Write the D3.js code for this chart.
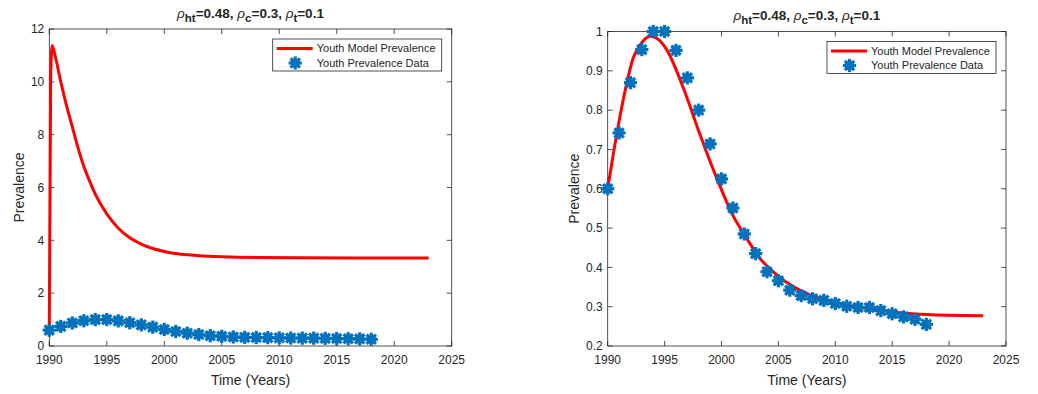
<!DOCTYPE html>
<html><head><meta charset="utf-8">
<script src="https://cdn.jsdelivr.net/npm/d3@7"></script>
<style>body{margin:0;background:#fff} text{font-family:"Liberation Sans",Arial,sans-serif;fill:#262626}</style>
</head><body><svg id="c" width="1038" height="394"></svg>
<script>
// ---------- data ----------
const years = [1990,1991,1992,1993,1994,1995,1996,1997,1998,1999,2000,2001,2002,2003,2004,2005,2006,2007,2008,2009,2010,2011,2012,2013,2014,2015,2016,2017,2018];
const prevalenceData = [0.600,0.742,0.870,0.954,1.000,1.000,0.952,0.882,0.800,0.714,0.625,0.551,0.485,0.435,0.389,0.366,0.342,0.328,0.320,0.316,0.308,0.301,0.298,0.298,0.290,0.282,0.274,0.268,0.255];

const leftModelT = [1990,1990.12,1990.25,1990.5,1991,1991.5,1992,1992.5,1993,1993.5,1994,1995,1996,1997,1998,1999,2000,2001,2002,2003,2005,2008,2012,2023];
const leftModelV = [0.6,10.2,11.38,11.0,10.0,9.1,8.3,7.5,6.8,6.25,5.75,5.0,4.46,4.10,3.86,3.69,3.58,3.50,3.45,3.42,3.38,3.35,3.34,3.33];

const rightModelT = [1990,1990.79,1991.52,1992.25,1992.98,1993.72,1994.4,1995.18,1996.64,1998.11,1999.58,2000.9,2002.21,2003.38,2004.85,2006.31,2007.78,2009,2010,2012,2014,2016,2018,2020,2023];
const rightModelV = [0.6,0.738,0.848,0.933,0.971,0.988,0.981,0.954,0.857,0.738,0.627,0.538,0.474,0.423,0.381,0.351,0.330,0.318,0.311,0.299,0.290,0.284,0.280,0.278,0.277];

const xTicks = [1990,1995,2000,2005,2010,2015,2020,2025];
const leftYTicks = [0,2,4,6,8,10,12];
const rightYTicks = [0.2,0.3,0.4,0.5,0.6,0.7,0.8,0.9,1];

const legendLabels = ["Youth Model Prevalence","Youth Prevalence Data"];
const axisLabelX = "Time (Years)", axisLabelY = "Prevalence";

// ---------- drawing ----------
const svg = d3.select("#c");
const RED = "#FF0000", BLUE = "#0072BD", AX = "#262626";

function marker(g, x, y){
  const m = g.append("g").attr("transform", `translate(${x},${y})`);
  m.append("circle").attr("r", 4.6).attr("fill", BLUE);
  [0,45,90,135].forEach(a=>{
    m.append("line").attr("x1",-6.6).attr("x2",6.6).attr("y1",0).attr("y2",0)
      .attr("transform",`rotate(${a})`).attr("stroke",BLUE).attr("stroke-width",3.2);
  });
}

function title(g, cx, by){
  const t = g.append("text").attr("x",cx).attr("y",by).attr("text-anchor","middle")
    .attr("font-size",13.5).attr("font-weight","bold");
  const parts = [["ht","=0.48, "],["c","=0.3, "],["t","=0.1"]];
  parts.forEach(p=>{
    t.append("tspan").attr("font-style","italic").attr("font-weight","normal").text("ρ");
    t.append("tspan").attr("dy",4).attr("font-size",11.5).text(p[0]);
    t.append("tspan").attr("dy",-4).text(p[1]);
  });
}

function panel(cfg){
  const g = svg.append("g");
  const x = d3.scaleLinear().domain([1990,2025]).range([cfg.x0,cfg.x1]);
  const y = d3.scaleLinear().domain(cfg.yDomain).range([cfg.y1,cfg.y0]);
  g.append("rect").attr("x",cfg.x0).attr("y",cfg.y0).attr("width",cfg.x1-cfg.x0).attr("height",cfg.y1-cfg.y0)
    .attr("fill","none").attr("stroke",AX).attr("stroke-width",0.8);
  const tl = 5;
  xTicks.forEach(v=>{
    const px = x(v);
    g.append("line").attr("x1",px).attr("x2",px).attr("y1",cfg.y1).attr("y2",cfg.y1-tl).attr("stroke",AX).attr("stroke-width",0.8);
    g.append("line").attr("x1",px).attr("x2",px).attr("y1",cfg.y0).attr("y2",cfg.y0+tl).attr("stroke",AX).attr("stroke-width",0.8);
    g.append("text").attr("x",px).attr("y",cfg.y1+18).attr("text-anchor","middle").attr("font-size",12).text(v);
  });
  cfg.yTicks.forEach(v=>{
    const py = y(v);
    g.append("line").attr("x1",cfg.x0).attr("x2",cfg.x0+tl).attr("y1",py).attr("y2",py).attr("stroke",AX).attr("stroke-width",0.8);
    g.append("line").attr("x1",cfg.x1).attr("x2",cfg.x1-tl).attr("y1",py).attr("y2",py).attr("stroke",AX).attr("stroke-width",0.8);
    g.append("text").attr("x",cfg.x0-5).attr("y",py).attr("dy","0.36em").attr("text-anchor","end").attr("font-size",12).text(v);
  });
  g.append("text").attr("x",(cfg.x0+cfg.x1)/2).attr("y",385).attr("text-anchor","middle").attr("font-size",14).text(axisLabelX);
  g.append("text").attr("transform",`translate(${cfg.yl},${(cfg.y0+cfg.y1)/2}) rotate(-90)`).attr("text-anchor","middle").attr("font-size",14).text(axisLabelY);
  title(g,(cfg.x0+cfg.x1)/2,cfg.ty);
  const line = d3.line().x(d=>x(d[0])).y(d=>y(d[1])).curve(d3.curveMonotoneX);
  g.append("path").datum(cfg.mt.map((t,i)=>[t,cfg.mv[i]])).attr("d",line)
    .attr("fill","none").attr("stroke",RED).attr("stroke-width",3).attr("stroke-linejoin","round");
  years.forEach((yr,i)=>marker(g,x(yr),y(prevalenceData[i])));
  const lw=169, lh=32, lx=cfg.x1-10-lw, ly=cfg.y0+10;
  g.append("rect").attr("x",lx).attr("y",ly).attr("width",lw).attr("height",lh).attr("fill","#fff").attr("stroke",AX).attr("stroke-width",0.8);
  g.append("line").attr("x1",lx+4).attr("x2",lx+40).attr("y1",ly+9.5).attr("y2",ly+9.5).attr("stroke",RED).attr("stroke-width",3);
  g.append("text").attr("x",lx+44).attr("y",ly+9.5).attr("dy","0.36em").attr("font-size",11).text(legendLabels[0]);
  marker(g,lx+22.5,ly+24);
  g.append("text").attr("x",lx+44).attr("y",ly+24).attr("dy","0.36em").attr("font-size",11).text(legendLabels[1]);
}

panel({x0:49.3,x1:451.7,y0:29,y1:346,yDomain:[0,12],yTicks:leftYTicks,mt:leftModelT,mv:leftModelV,yl:24,ty:18});
panel({x0:607.7,x1:1006,y0:31.5,y1:346,yDomain:[0.2,1],yTicks:rightYTicks,mt:rightModelT,mv:rightModelV,yl:579,ty:20});
</script></body></html>
